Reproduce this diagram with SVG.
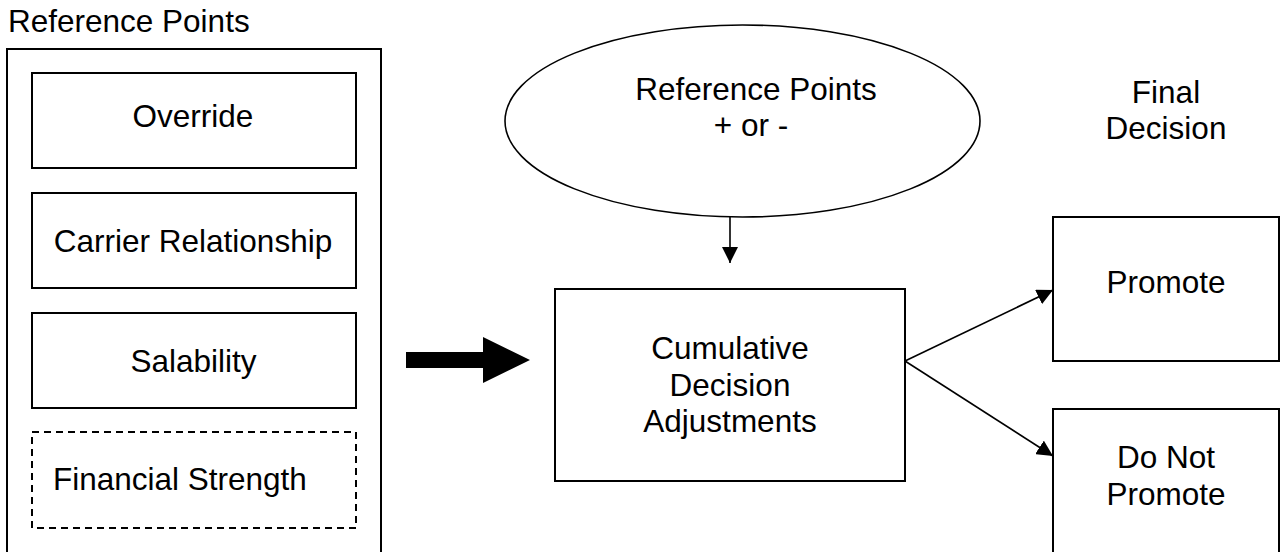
<svg xmlns="http://www.w3.org/2000/svg" width="1283" height="552" viewBox="0 0 1283 552">
<style>
text{font-family:"Liberation Sans",Arial,sans-serif;font-size:31.5px;fill:#000}
.c{text-anchor:middle}
.box{fill:#fff;stroke:#000;stroke-width:2}
.dash{fill:#fff;stroke:#000;stroke-width:2;stroke-dasharray:7,5}
.ln{fill:none;stroke:#000;stroke-width:1.6}
</style>
<defs>
<marker id="ah" viewBox="0 0 16 16" refX="16" refY="8" markerWidth="16" markerHeight="16" markerUnits="userSpaceOnUse" orient="auto">
<path d="M0,0 L16,8 L0,16 Z" fill="#000"/>
</marker>
</defs>
<g id="title"><text x="8" y="32">Reference Points</text></g>
<g id="outer"><rect class="box" x="7" y="49" width="374" height="510" fill="none"/></g>
<g id="override"><rect class="box" x="32" y="73" width="324" height="95"/><text class="c" x="193" y="127">Override</text></g>
<g id="carrier"><rect class="box" x="32" y="193" width="324" height="95"/><text class="c" x="193" y="252">Carrier Relationship</text></g>
<g id="salability"><rect class="box" x="32" y="313" width="324" height="95"/><text class="c" x="193.5" y="372">Salability</text></g>
<g id="financial"><rect class="dash" x="32" y="432" width="324" height="96"/><text x="53" y="490">Financial Strength</text></g>
<g id="bigarrow"><path d="M406,352 L483,352 L483,337 L530,360 L483,383 L483,368 L406,368 Z" fill="#000"/></g>
<g id="ellipse"><ellipse cx="742.5" cy="121" rx="237.5" ry="96" fill="#fff" stroke="#000" stroke-width="1.6"/><text class="c" x="756" y="100">Reference Points</text><text class="c" x="751" y="136">+ or -</text></g>
<g id="cumulative"><rect class="box" x="555" y="289" width="350" height="192"/><text class="c" x="730" y="359">Cumulative</text><text class="c" x="730" y="396">Decision</text><text class="c" x="730" y="432">Adjustments</text></g>
<g id="final"><text class="c" x="1166" y="103">Final</text><text class="c" x="1166" y="139">Decision</text></g>
<g id="promote"><rect class="box" x="1053" y="217" width="226" height="144"/><text class="c" x="1166" y="293">Promote</text></g>
<g id="donot"><rect class="box" x="1053" y="409" width="226" height="150"/><text class="c" x="1166" y="468">Do Not</text><text class="c" x="1166" y="505">Promote</text></g>
<g id="connectors">
<line class="ln" x1="730" y1="217" x2="730" y2="263" marker-end="url(#ah)"/>
<line class="ln" x1="905" y1="361" x2="1053" y2="290" marker-end="url(#ah)"/>
<line class="ln" x1="905" y1="361" x2="1053" y2="456" marker-end="url(#ah)"/>
</g>
</svg>
